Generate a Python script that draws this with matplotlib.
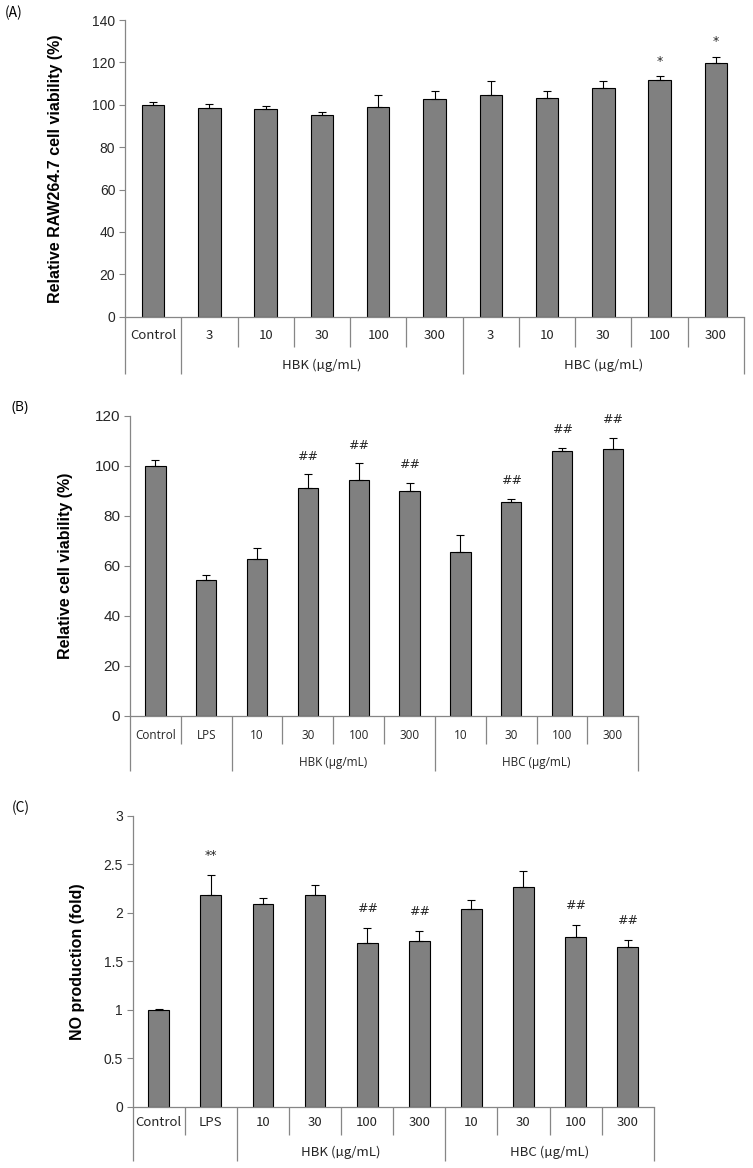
import matplotlib
matplotlib.use("Agg")
import matplotlib.pyplot as plt
import numpy as np

# Panel A: RAW264.7 viability
cats_a = ["Control", "3", "10", "30", "100", "300", "3", "10", "30", "100", "300"]
mean_a = [100, 98.3, 97.9, 95.4, 99.0, 102.9, 104.6, 103.4, 107.9, 111.6, 119.6]
err_a = [1.3, 2.2, 1.4, 1.1, 5.8, 3.8, 6.5, 3.3, 3.5, 1.8, 3.1]
mark_a = ["", "", "", "", "", "", "", "", "", "*", "*"]
groups_a = [("HBK (µg/mL)", 1, 5), ("HBC (µg/mL)", 6, 10)]

# Panel B: cell viability with LPS
cats_b = ["Control", "LPS", "10", "30", "100", "300", "10", "30", "100", "300"]
mean_b = [100, 54.2, 62.8, 91.1, 94.1, 89.9, 65.6, 85.6, 106.0, 106.8]
err_b = [2.1, 2.0, 4.4, 5.4, 6.9, 3.3, 6.5, 1.2, 1.2, 4.4]
mark_b = ["", "", "", "##", "##", "##", "", "##", "##", "##"]
groups_b = [("HBK (µg/mL)", 2, 5), ("HBC (µg/mL)", 6, 9)]

# Panel C: NO production
cats_c = ["Control", "LPS", "10", "30", "100", "300", "10", "30", "100", "300"]
mean_c = [1.0, 2.186, 2.09, 2.186, 1.686, 1.713, 2.042, 2.263, 1.748, 1.648]
err_c = [0.005, 0.20, 0.066, 0.104, 0.161, 0.103, 0.09, 0.167, 0.13, 0.075]
mark_c = ["", "**", "", "", "##", "##", "", "", "##", "##"]
groups_c = [("HBK (µg/mL)", 2, 5), ("HBC (µg/mL)", 6, 9)]

GRAY = "#868686"
BAR = "#808080"

fig = plt.figure(figsize=(7.53, 11.68), dpi=100)


def panel(rect, cats, mean, err, marks, groups, long_seps, ymax, ystep,
          ylabel, ylab_x, short_len, long_len, lab_off, grp_off,
          tick_fs, cat_font, cat_fs, mark_off, yfont):
    ax = fig.add_axes(rect)
    x = np.arange(len(cats))
    ax.bar(x, mean, width=0.4, color=BAR, edgecolor="black", linewidth=0.8, zorder=2)
    ax.errorbar(x, mean, yerr=[np.zeros(len(mean)), err], fmt="none",
                ecolor="black", elinewidth=0.8, capsize=3, capthick=0.8, zorder=3)
    ax.set_xlim(-0.5, len(cats) - 0.5)
    ax.set_ylim(0, ymax)
    ax.set_yticks(np.arange(0, ymax + ystep / 2, ystep))
    ax.set_yticklabels([("%g" % v) for v in np.arange(0, ymax + ystep / 2, ystep)],
                       family=yfont, fontsize=tick_fs, color="#262626")
    ax.tick_params(axis="y", length=4, color=GRAY, width=0.8, pad=3)
    ax.set_xticks([])
    for s in ["top", "right"]:
        ax.spines[s].set_visible(False)
    for s in ["left", "bottom"]:
        ax.spines[s].set_color(GRAY)
        ax.spines[s].set_linewidth(0.9)
    ax.set_ylabel(ylabel, fontsize=11.5, fontweight="bold", family="Liberation Sans")
    ax.yaxis.set_label_coords(ylab_x, 0.5)

    tr = ax.get_xaxis_transform()
    bh = ax.get_position().height * fig.get_figheight() * 72
    for k in range(len(cats) + 1):
        b = k - 0.5
        ln = long_len if k in long_seps else short_len
        ax.plot([b, b], [0, -ln / bh], transform=tr, color=GRAY, lw=0.9,
                clip_on=False, solid_capstyle="butt")
    for xi, c in zip(x, cats):
        ax.annotate(c, (xi, 0), xycoords=tr, xytext=(0, -lab_off),
                    textcoords="offset points", ha="center", va="center",
                    fontsize=cat_fs, family=cat_font, color="#262626")
    for name, a, b in groups:
        ax.annotate(name, ((a + b) / 2, 0), xycoords=tr, xytext=(0, -grp_off),
                    textcoords="offset points", ha="center", va="center",
                    fontsize=cat_fs, family=cat_font, color="#262626")
    for xi, m, e, t in zip(x, mean, err, marks):
        if t:
            ax.annotate(t, (xi, m + e), xytext=(0, mark_off), textcoords="offset points",
                        ha="center", va="center", fontsize=9, color="#262626")
    return ax


kr = ["Noto Sans CJK KR", "DejaVu Sans"]

panel([125 / 753, 1 - 316.7 / 1168, 619 / 753, 296.7 / 1168],
      cats_a, mean_a, err_a, mark_a, groups_a, {0, 1, 6, 11}, 140, 20,
      "Relative RAW264.7 cell viability (%)", -0.100,
      22, 41, 13.5, 35, 10, kr, 9.5, 11, "Liberation Sans")
fig.text(5 / 753, 1 - 13 / 1168, "(A)", fontsize=10, family=kr, va="center")

panel([130 / 753, 1 - 715.7 / 1168, 508.3 / 753, 300 / 1168],
      cats_b, mean_b, err_b, mark_b, groups_b, {0, 2, 6, 10}, 120, 20,
      "Relative cell viability (%)", -0.112,
      20.5, 40, 14, 34, 11, "Open Sans", 8.5, 13, "Liberation Sans")
fig.text(12 / 753, 1 - 407 / 1168, "(B)", fontsize=10, family="Open Sans", va="center")

panel([132.7 / 753, 1 - 1107 / 1168, 521 / 753, 291.3 / 1168],
      cats_c, mean_c, err_c, mark_c, groups_c, {0, 2, 6, 10}, 3, 0.5,
      "NO production (fold)", -0.092,
      20.5, 39, 11.5, 33, 10, kr, 9.5, 14, "Liberation Sans")
fig.text(12 / 753, 1 - 808 / 1168, "(C)", fontsize=10, family=kr, va="center")

fig.savefig("out.png", dpi=100)
